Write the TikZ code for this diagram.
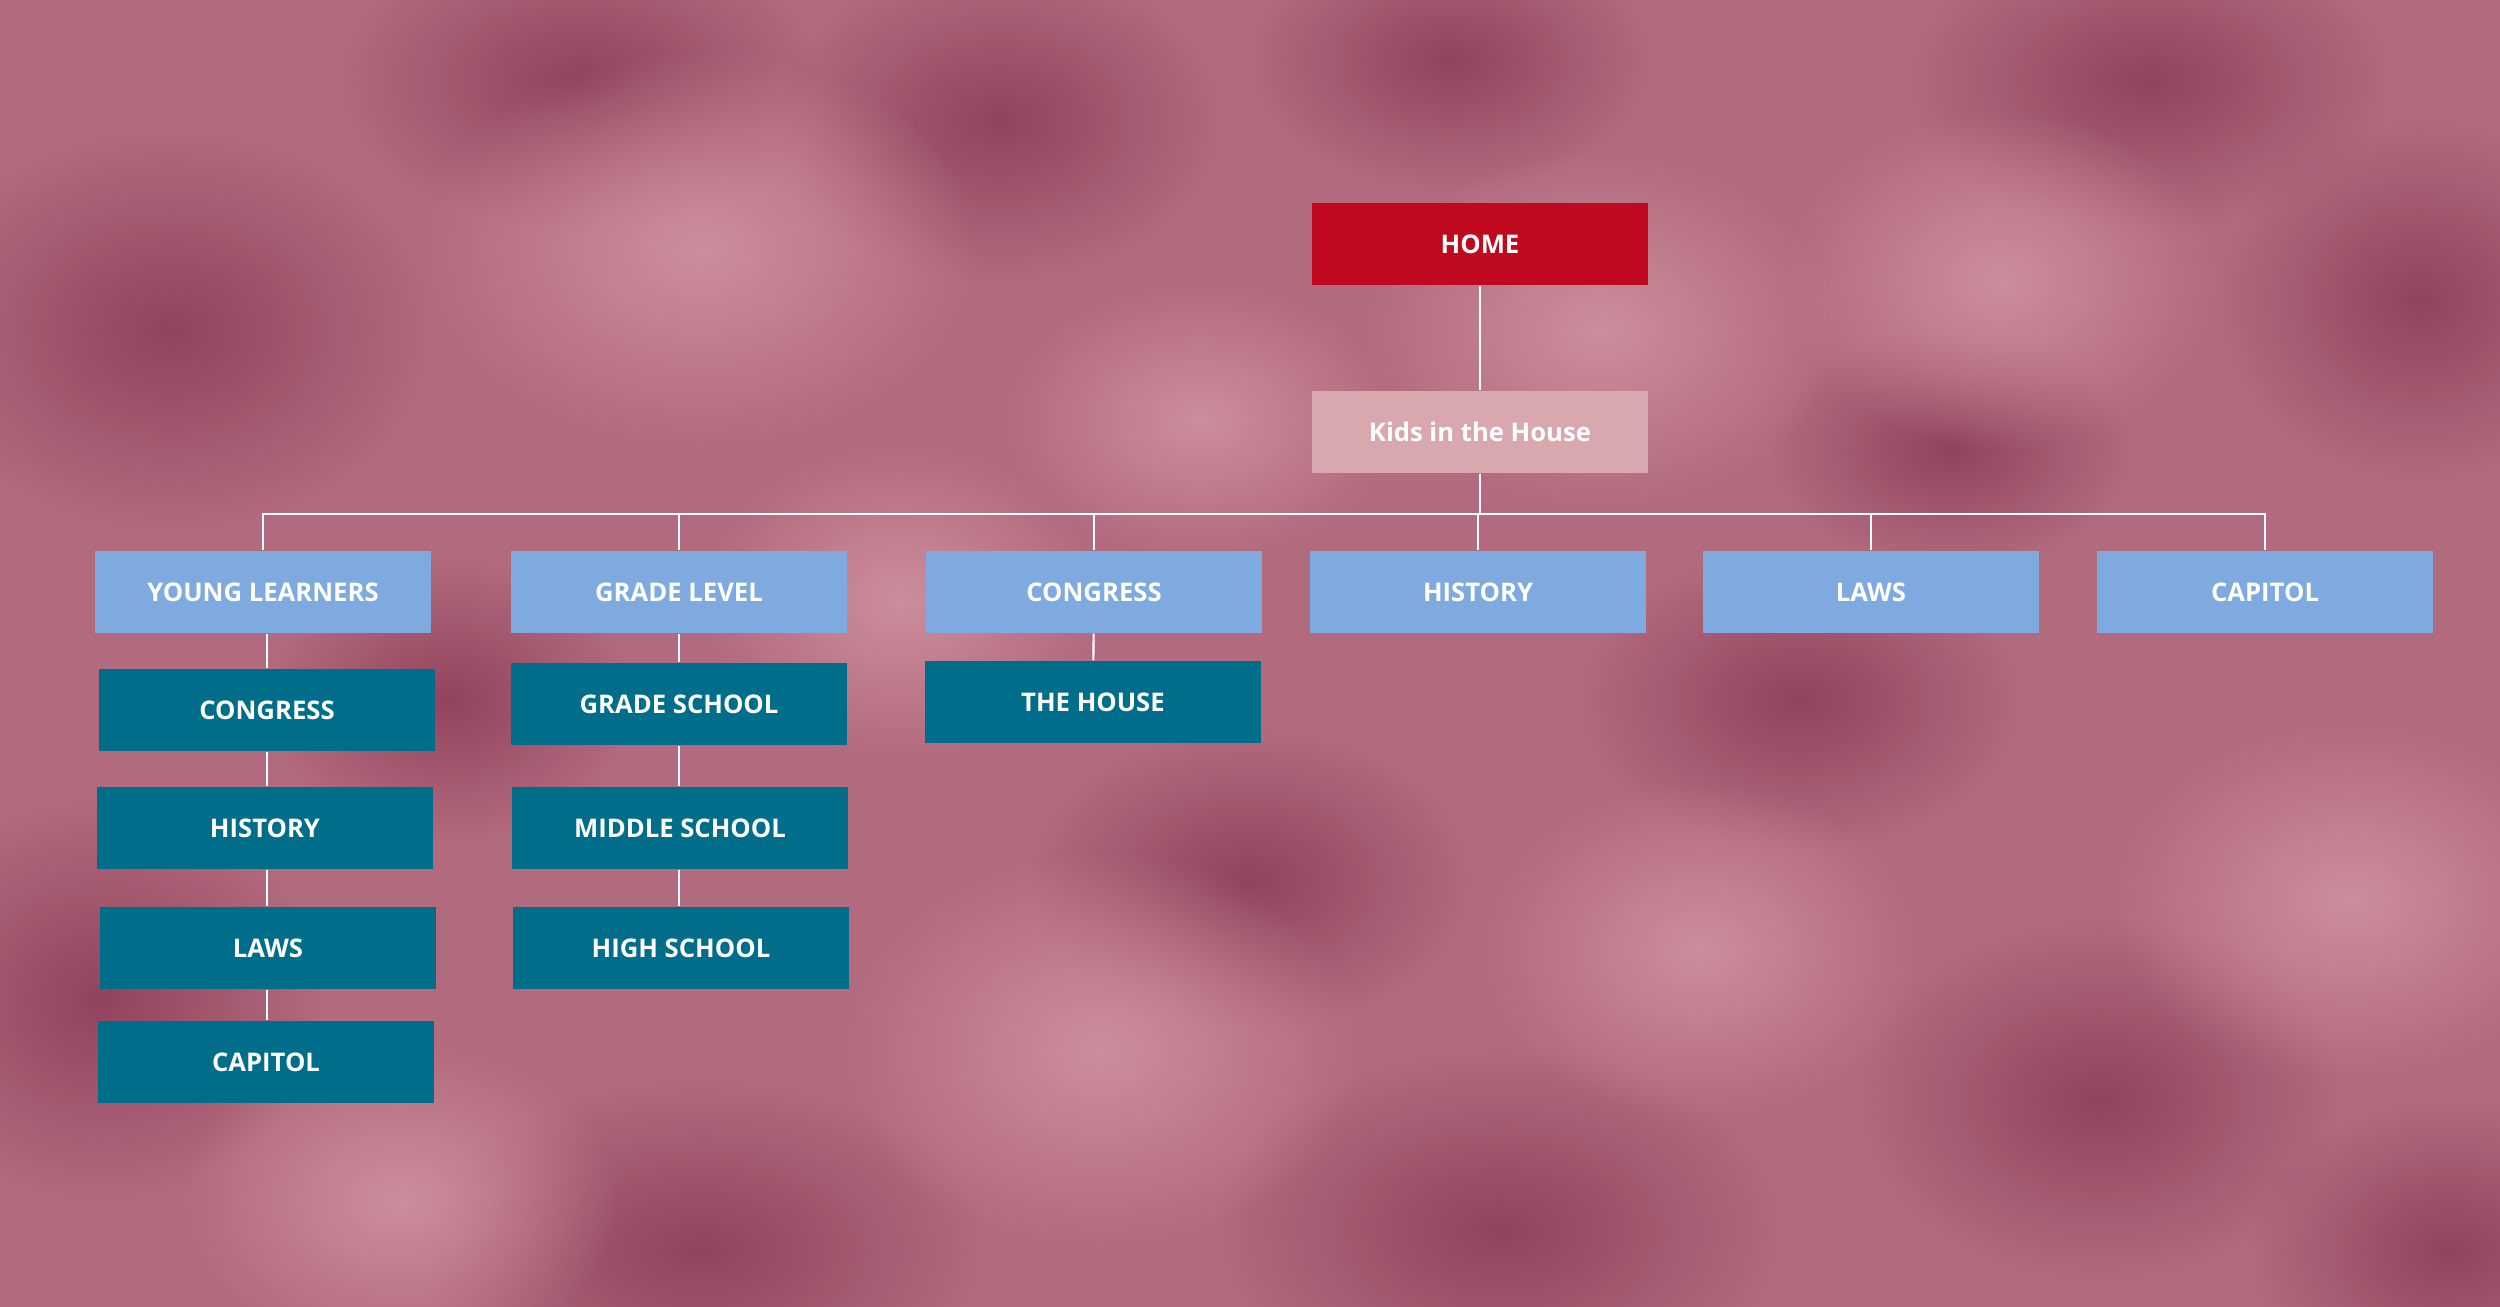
\documentclass[tikz,border=0pt]{standalone}
\usepackage{fontspec}
\setmainfont{Open Sans}
\usepackage{tikz}
\usetikzlibrary{shapes,positioning,calc}
\usetikzlibrary{fadings}
\tikzfading[name=blob, inner color=transparent!0, outer color=transparent!100]
\definecolor{bgbase}{RGB}{178,106,126}
\definecolor{bgdark}{RGB}{146,68,92}
\definecolor{bglight}{RGB}{204,142,156}
\definecolor{homered}{RGB}{192,8,30}
\definecolor{kidspink}{RGB}{217,168,174}
\definecolor{secblue}{RGB}{127,170,223}
\definecolor{subteal}{RGB}{0,110,138}
\tikzstyle{box} = [rectangle, minimum width=3.36cm, minimum height=0.82cm, inner sep=0pt, text=white, font=\fontsize{7.3pt}{9pt}\selectfont\bfseries]
\tikzstyle{home} = [box, fill=homered]
\tikzstyle{kids} = [box, fill=kidspink]
\tikzstyle{section} = [box, fill=secblue]
\tikzstyle{page} = [box, fill=subteal]
\tikzstyle{link} = [white, line width=0.6pt]

\begin{document}
\begin{tikzpicture}[x=0.01cm,y=-0.01cm]
						\fill[bgbase] (0,0) rectangle (2500,1307);
						\useasboundingbox (0,0) rectangle (2500,1307);
						\foreach \x/\y/\rx/\ry in {170/330/260/200, 580/80/240/150, 1000/120/220/160, 1450/60/200/130, 2150/80/240/150, 2420/300/200/180, 100/1000/220/200, 700/1250/280/170, 1500/1230/280/180, 2100/1100/240/180, 1250/880/220/150, 1800/700/220/150, 450/700/180/140, 2450/1250/200/150, 1950/450/180/120}
							\fill[bgdark, path fading=blob] (\x,\y) ellipse ({\rx} and {\ry});
						\foreach \x/\y/\rx/\ry in {700/250/280/200, 1600/330/240/180, 2000/280/220/170, 1100/1050/260/200, 400/1200/220/160, 2350/900/240/180, 1700/950/220/170, 900/600/200/160, 1200/420/200/140}
							\fill[bglight, path fading=blob] (\x,\y) ellipse ({\rx} and {\ry});
						\node[home] (home) at (1480,244) {HOME};
						\node[kids] (kids) at (1480,432) {Kids in the House};
						\node[section] (young) at (263,592) {YOUNG LEARNERS};
						\node[section] (grade) at (679,592) {GRADE LEVEL};
						\node[section] (congress) at (1094,592) {CONGRESS};
						\node[section] (history) at (1478,592) {HISTORY};
						\node[section] (laws) at (1871,592) {LAWS};
						\node[section] (capitol) at (2265,592) {CAPITOL};
						\node[page] (ycongress) at (267,710) {CONGRESS};
						\node[page] (yhistory) at (265,828) {HISTORY};
						\node[page] (ylaws) at (268,948) {LAWS};
						\node[page] (ycapitol) at (266,1062) {CAPITOL};
						\node[page] (gschool) at (679,704) {GRADE SCHOOL};
						\node[page] (mschool) at (680,828) {MIDDLE SCHOOL};
						\node[page] (hschool) at (681,948) {HIGH SCHOOL};
						\node[page] (house) at (1093,702) {THE HOUSE};
						\draw[link] (home) -- (kids);
						\foreach \s in {young,grade,congress,history,laws,capitol}
							\draw[link] (kids.south) -- ++(0,40) -| (\s.north);
						\foreach \a/\b in {young/ycongress, ycongress/yhistory, yhistory/ylaws, ylaws/ycapitol}
							\draw[link] (ycongress.north |- \a.south) -- (ycongress.north |- \b.north);
						\foreach \a/\b in {grade/gschool, gschool/mschool, mschool/hschool}
							\draw[link] (grade.south |- \a.south) -- (grade.south |- \b.north);
						\draw[link] (congress) -- (house);
					\end{tikzpicture}
\end{document}
